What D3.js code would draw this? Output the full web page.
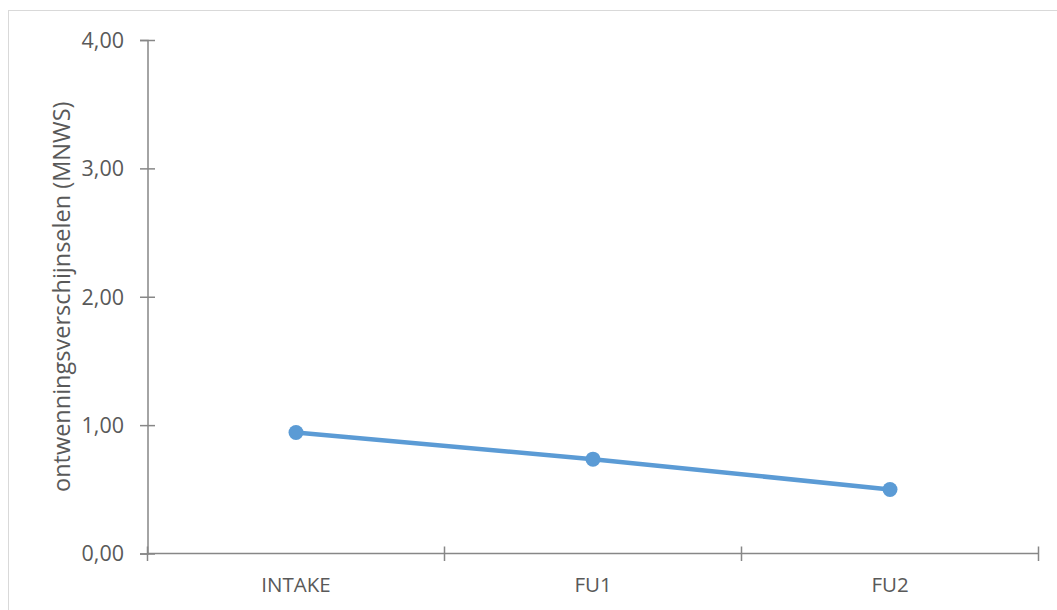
<!DOCTYPE html>
<html>
<head>
<meta charset="utf-8">
<script src="https://cdn.jsdelivr.net/npm/d3@7"></script>
<style>
  html, body { margin: 0; padding: 0; background: #fff; }
  svg { display: block; }
  text { font-family: "Open Sans", "Noto Sans", sans-serif; fill: #595959; }
</style>
</head>
<body>
<svg id="chart" width="1057" height="610"></svg>
<script>
// Mean withdrawal symptom score (MNWS) per measurement moment
const categories = ["INTAKE", "FU1", "FU2"];
const values = [0.943, 0.735, 0.499];
const yTicks = [0, 1, 2, 3, 4];

const svg = d3.select("#chart");
const W = 1057, H = 610;
const plot = { left: 147.5, right: 1038.5, top: 40, bottom: 553.5 };

// chart area frame
svg.append("rect")
  .attr("x", 8.5).attr("y", 10.5)
  .attr("width", W + 10).attr("height", H + 10)
  .attr("fill", "#fff")
  .attr("stroke", "#d9d9d9").attr("stroke-width", 1);

const x = d3.scaleBand().domain(categories).range([plot.left, plot.right]).padding(0);
const y = d3.scaleLinear().domain([0, 4]).range([plot.bottom, plot.top]);
const fmt = v => d3.format(".2f")(v).replace(".", ",");

const axisColor = "#878787";

// y axis with crossing tick marks
const yAxis = svg.append("g")
  .attr("transform", `translate(${plot.left},0)`)
  .call(d3.axisLeft(y).tickValues(yTicks).tickFormat(fmt).tickSize(7.5).tickPadding(16));
yAxis.attr("font-size", null).attr("font-family", null);
yAxis.select(".domain").attr("stroke", axisColor).attr("stroke-width", 1.5);
yAxis.selectAll(".tick line").attr("stroke", axisColor).attr("stroke-width", 1.5).attr("x2", 7.5).attr("x1", -7.5);
yAxis.selectAll(".tick text")
  .attr("fill", "#595959")
  .style("font-size", "21.5px")
  .attr("dy", "0.34em");

// x axis with category boundary ticks
const bounds = [plot.left, ...categories.map(c => x(c) + x.bandwidth())];
const xg = svg.append("g");
xg.append("line")
  .attr("x1", plot.left).attr("x2", plot.right)
  .attr("y1", plot.bottom).attr("y2", plot.bottom)
  .attr("stroke", axisColor).attr("stroke-width", 1.5);
xg.selectAll("line.tk").data(bounds).join("line")
  .attr("class", "tk")
  .attr("x1", d => d).attr("x2", d => d)
  .attr("y1", plot.bottom - 7).attr("y2", plot.bottom + 7.5)
  .attr("stroke", axisColor).attr("stroke-width", 1.5);
xg.selectAll("text").data(categories).join("text")
  .attr("x", d => x(d) + x.bandwidth() / 2)
  .attr("y", 591.5)
  .attr("text-anchor", "middle")
  .style("font-size", "20.5px")
  .text(d => d);

// y axis title
svg.append("text")
  .attr("transform", `translate(69.5,${(plot.top + plot.bottom) / 2 + 0}) rotate(-90)`)
  .attr("text-anchor", "middle")
  .style("font-size", "23.5px")
  .text("ontwenningsverschijnselen (MNWS)");

// series line and markers
const pts = categories.map((c, i) => [x(c) + x.bandwidth() / 2, y(values[i])]);
svg.append("path")
  .attr("d", d3.line()(pts))
  .attr("fill", "none")
  .attr("stroke", "#5b9bd5")
  .attr("stroke-width", 4.5)
  .attr("stroke-linejoin", "round");
svg.selectAll("circle").data(pts).join("circle")
  .attr("cx", d => d[0]).attr("cy", d => d[1])
  .attr("r", 7.5)
  .attr("fill", "#5b9bd5");
</script>
</body>
</html>
